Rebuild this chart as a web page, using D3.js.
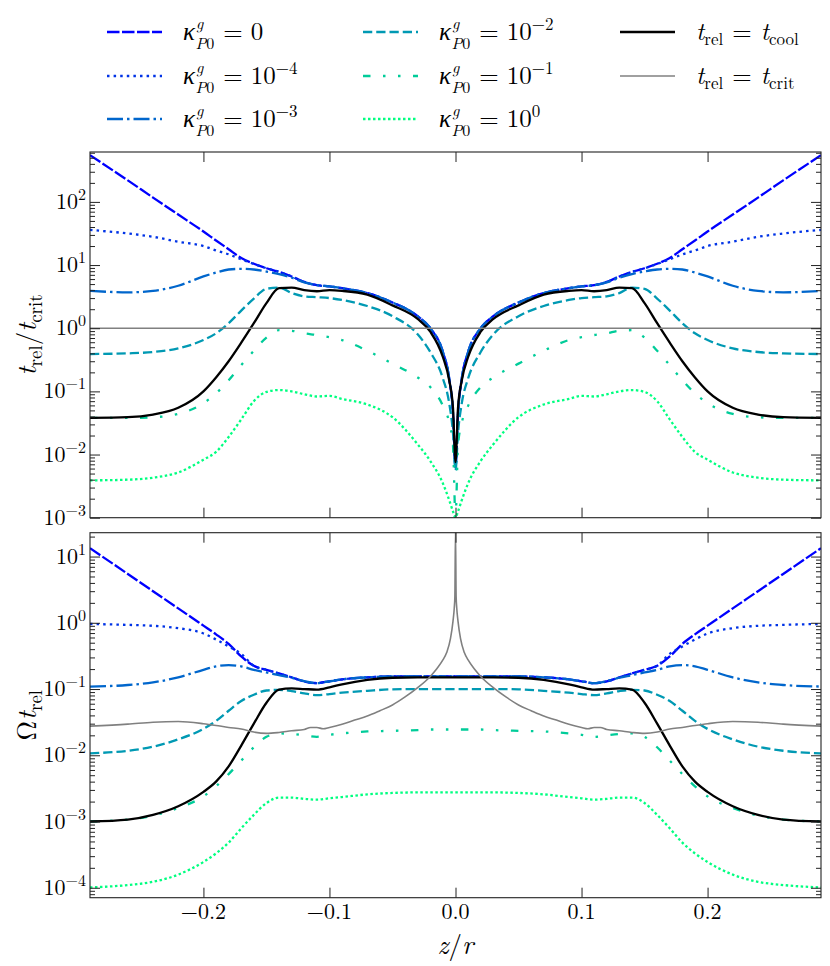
<!DOCTYPE html>
<html>
<head>
<meta charset="utf-8">
<script src="https://cdn.jsdelivr.net/npm/d3@7"></script>
<style>
  body { margin: 0; background: #fff; }
</style>
</head>
<body>
<svg id="chart" width="830" height="966"></svg>
<script>
// ---- data (profiles are symmetric in z, only z >= 0 is listed) ----
const zHalf = [0, 0.002, 0.005, 0.01, 0.02, 0.03, 0.05, 0.07, 0.09, 0.1, 0.11, 0.12,
  0.13, 0.14, 0.15, 0.16, 0.17, 0.18, 0.19, 0.2, 0.22, 0.24, 0.26, 0.29];

// top panel: t_rel / t_crit
const ratioK0 = [0.0063, 0.045, 0.16, 0.42, 1.0, 1.55, 2.55, 3.6, 4.3, 4.6, 4.8, 5.4,
  6.6, 7.8, 8.9, 10.5, 12.9, 17.8, 24.5, 34, 63, 117, 219, 550];
const ratioK4 = [0.0063, 0.045, 0.16, 0.42, 1.0, 1.55, 2.55, 3.6, 4.3, 4.6, 4.8, 5.4,
  6.6, 7.8, 8.9, 10.4, 12.3, 14.8, 17, 20, 23.4, 28, 31.6, 36];
const ratioK3 = [0.0063, 0.045, 0.16, 0.42, 1.0, 1.55, 2.55, 3.6, 4.3, 4.6, 4.8, 5.3,
  6.3, 7.2, 7.9, 8.5, 8.7, 8.5, 7.6, 6.6, 4.7, 3.9, 3.7, 3.9];
const ratioK2 = [0.0056, 0.022, 0.065, 0.16, 0.42, 0.80, 1.55, 2.25, 2.8, 3.0, 3.1, 3.2,
  3.6, 4.4, 4.2, 2.95, 1.9, 1.2, 0.83, 0.65, 0.48, 0.42, 0.40, 0.39];
const ratioK1 = [0.001, 0.014, 0.032, 0.059, 0.117, 0.166, 0.275, 0.44, 0.65, 0.72, 0.78, 0.83,
  0.91, 0.93, 0.71, 0.44, 0.26, 0.15, 0.093, 0.065, 0.044, 0.039, 0.038, 0.038];
const ratioK00 = [0.001, 0.00126, 0.0019, 0.0035, 0.0079, 0.0145, 0.039, 0.062, 0.076, 0.085, 0.083, 0.090,
  0.10, 0.105, 0.098, 0.07, 0.036, 0.019, 0.011, 0.0083, 0.0052, 0.0043, 0.0040, 0.0039];
const ratioCool = [0.0076, 0.055, 0.15, 0.35, 0.88, 1.4, 2.3, 3.4, 3.9, 4.0, 3.85, 4.0,
  4.4, 4.3, 2.5, 1.2, 0.59, 0.30, 0.166, 0.10, 0.055, 0.043, 0.039, 0.038];
const zCritTop = [0, 0.29];
const ratioCrit = [1, 1];

// bottom panel: Omega t_rel
const omegaK0 = [0.155, 0.155, 0.155, 0.155, 0.155, 0.155, 0.155, 0.150, 0.140, 0.131, 0.123, 0.130,
  0.150, 0.172, 0.195, 0.224, 0.31, 0.48, 0.67, 0.905, 1.65, 3.0, 5.46, 13.4];
const omegaK4 = [0.155, 0.155, 0.155, 0.155, 0.155, 0.155, 0.155, 0.150, 0.140, 0.131, 0.123, 0.130,
  0.150, 0.172, 0.195, 0.224, 0.34, 0.44, 0.56, 0.69, 0.83, 0.90, 0.93, 0.96];
const omegaK3 = [0.155, 0.155, 0.155, 0.155, 0.155, 0.155, 0.155, 0.150, 0.140, 0.131, 0.123, 0.132,
  0.148, 0.162, 0.178, 0.195, 0.22, 0.23, 0.22, 0.195, 0.15, 0.126, 0.115, 0.109];
const omegaK2 = [0.100, 0.100, 0.100, 0.100, 0.100, 0.100, 0.099, 0.094, 0.088, 0.084, 0.081, 0.086,
  0.093, 0.097, 0.095, 0.082, 0.066, 0.047, 0.033, 0.025, 0.0174, 0.0135, 0.0117, 0.0107];
const omegaK1 = [0.0245, 0.0245, 0.0245, 0.0245, 0.0245, 0.024, 0.0234, 0.0229, 0.0214, 0.0204, 0.019, 0.020,
  0.021, 0.0214, 0.019, 0.0132, 0.0083, 0.0052, 0.0034, 0.0024, 0.0016, 0.00123, 0.00107, 0.001];
const omegaK00 = [0.00275, 0.00275, 0.00275, 0.00275, 0.00275, 0.00275, 0.0027, 0.00257, 0.00234, 0.00224, 0.00214, 0.0022,
  0.0023, 0.0023, 0.0019, 0.00126, 0.00079, 0.00048, 0.00033, 0.000245, 0.000158, 0.000123, 0.00011, 0.000101];
const omegaCool = [0.150, 0.150, 0.150, 0.150, 0.150, 0.150, 0.148, 0.138, 0.118, 0.106, 0.098, 0.100,
  0.102, 0.098, 0.062, 0.030, 0.014, 0.0068, 0.004, 0.0028, 0.0017, 0.00126, 0.00107, 0.001];
const zCritHalf = [0, 0.0005, 0.001, 0.002, 0.004, 0.007, 0.01, 0.015, 0.02, 0.03, 0.04, 0.05,
  0.06, 0.07, 0.08, 0.09, 0.1, 0.105, 0.11, 0.115, 0.12, 0.13, 0.14, 0.15, 0.16, 0.17, 0.18,
  0.19, 0.2, 0.22, 0.24, 0.26, 0.29];
const omegaCrit = [25, 2.5, 1.66, 1.05, 0.575, 0.355, 0.275, 0.20, 0.155, 0.105, 0.076, 0.0575,
  0.047, 0.039, 0.034, 0.0295, 0.0263, 0.0251, 0.0263, 0.0263, 0.0245, 0.0234, 0.0221, 0.0214,
  0.0224, 0.025, 0.0263, 0.0282, 0.030, 0.0324, 0.0316, 0.0295, 0.0275];

const kappaExponents = [null, -4, -3, -2, -1, 0];   // null -> kappa = 0
const xTicks = [-0.2, -0.1, 0.0, 0.1, 0.2];

// ---- styles ----
const FONT = '"CMU Serif", "Latin Modern Roman", "Liberation Serif", "DejaVu Serif", ' +
  '"Noto Serif", "FreeSerif", "Nimbus Roman", "Times New Roman", Times, serif';
const kappaStyles = [
  { color: '#0000ff', dash: '12.5,2.5' },
  { color: '#0033e6', dash: '2.5,4.1' },
  { color: '#0066cc', dash: '16,4,2.5,4' },
  { color: '#0099b3', dash: '9.25,4' },
  { color: '#00cc99', dash: '7.5,12.5,2.5,12.5,2.5,12.5' },
  { color: '#00ff80', dash: '2.5,2.5' }
];
const coolStyle = { color: '#000', width: 2.3 };
const critStyle = { color: '#808080', width: 1.6 };
const LW = 2.3;

const svg = d3.select('#chart').attr('font-family', FONT);
const left = 90, right = 821;

const x = d3.scaleLinear().domain([-0.29, 0.29]).range([left, right]);

/**
 * Mirror a half profile (z >= 0) into a full symmetric one.
 */
function mirror(zs, vs) {
  const neg = zs.slice(1).map((z, i) => ({ z: -z, v: vs[i + 1] })).reverse();
  return neg.concat(zs.map((z, i) => ({ z, v: vs[i] })));
}

/**
 * Append a piece-wise styled text (simple math typesetting with tspans).
 */
function mathText(parent, px, py, pieces, attrs = {}) {
  const t = parent.append('text').attr('x', px).attr('y', py)
    .style('font-family', FONT).attr('fill', '#000');
  Object.entries(attrs).forEach(([k, v]) => t.attr(k, v));
  pieces.forEach((p) => {
    const s = t.append('tspan').text(p.t).style('font-size', (p.size || 22) + 'px');
    if (p.it) s.style('font-style', 'italic');
    if (p.dx) s.attr('dx', p.dx);
    if (p.dy) s.attr('dy', p.dy);
  });
  return t;
}

const panels = [
  {
    top: 152, bottom: 517.7, domain: [1e-3, Math.pow(10, 2.79)],
    kappa: [ratioK0, ratioK4, ratioK3, ratioK2, ratioK1, ratioK00],
    cool: ratioCool, critZ: zCritTop, crit: ratioCrit, xLabels: false,
    ylabel: [
      { t: 't', it: true, size: 27 }, { t: 'rel', size: 19, dy: 6 },
      { t: '/', size: 27, dy: -6 }, { t: 't', it: true, size: 27 }, { t: 'crit', size: 19, dy: 6 }
    ]
  },
  {
    top: 532.7, bottom: 897.7, domain: [Math.pow(10, -4.15), Math.pow(10, 1.36)],
    kappa: [omegaK0, omegaK4, omegaK3, omegaK2, omegaK1, omegaK00],
    cool: omegaCool, critZ: zCritHalf, crit: omegaCrit, xLabels: true,
    ylabel: [
      { t: 'Ω', size: 27 }, { t: 't', it: true, size: 27, dx: 1 }, { t: 'rel', size: 19, dy: 6 }
    ]
  }
];

panels.forEach((p, pi) => {
  const y = d3.scaleLog().domain(p.domain).range([p.bottom, p.top]);
  const g = svg.append('g');

  const clipId = 'clip' + pi;
  svg.append('clipPath').attr('id', clipId)
    .append('rect').attr('x', left).attr('y', p.top)
    .attr('width', right - left).attr('height', p.bottom - p.top);

  const line = d3.line()
    .x((d) => x(d.z))
    .y((d) => y(d.v))
    .curve(d3.curveMonotoneX);

  const plot = g.append('g').attr('clip-path', `url(#${clipId})`);

  p.kappa.forEach((vals, i) => {
    plot.append('path')
      .attr('d', line(mirror(zHalf, vals)))
      .attr('fill', 'none')
      .attr('stroke', kappaStyles[i].color)
      .attr('stroke-width', LW)
      .attr('stroke-dasharray', kappaStyles[i].dash);
  });

  plot.append('path')
    .attr('d', line(mirror(zHalf, p.cool)))
    .attr('fill', 'none')
    .attr('stroke', coolStyle.color)
    .attr('stroke-width', coolStyle.width);

  plot.append('path')
    .attr('d', line(mirror(p.critZ, p.crit)))
    .attr('fill', 'none')
    .attr('stroke', critStyle.color)
    .attr('stroke-width', critStyle.width);

  // log ticks
  const lo = Math.ceil(Math.log10(p.domain[0]));
  const hi = Math.floor(Math.log10(p.domain[1]));
  const majors = d3.range(lo, hi + 1).map((e) => Math.pow(10, e));
  const minors = [];
  for (let e = lo - 1; e <= hi; e++) {
    for (let k = 2; k <= 9; k++) {
      const v = k * Math.pow(10, e);
      if (v >= p.domain[0] && v <= p.domain[1]) minors.push(v);
    }
  }

  const axes = g.append('g').attr('class', 'axes');
  const addAxis = (axis, tx, ty) => {
    const a = axes.append('g').attr('transform', `translate(${tx},${ty})`).call(axis);
    a.select('.domain').remove();
    a.selectAll('line').attr('stroke', '#222').attr('stroke-width', 1);
    a.selectAll('text').remove();
  };

  addAxis(d3.axisLeft(y).tickValues(majors).tickSize(-10).tickFormat(''), left, 0);
  addAxis(d3.axisLeft(y).tickValues(minors).tickSize(-5).tickFormat(''), left, 0);
  addAxis(d3.axisRight(y).tickValues(majors).tickSize(-10).tickFormat(''), right, 0);
  addAxis(d3.axisRight(y).tickValues(minors).tickSize(-5).tickFormat(''), right, 0);
  addAxis(d3.axisBottom(x).tickValues(xTicks).tickSize(-10).tickFormat(''), 0, p.bottom);
  addAxis(d3.axisTop(x).tickValues(xTicks).tickSize(-10).tickFormat(''), 0, p.top);

  axes.append('rect')
    .attr('x', left).attr('y', p.top)
    .attr('width', right - left).attr('height', p.bottom - p.top)
    .attr('fill', 'none').attr('stroke', '#222').attr('stroke-width', 1.1);

  // y tick labels: 10^n
  majors.forEach((v) => {
    const e = Math.round(Math.log10(v));
    mathText(axes, left - 4, y(v) + 7, [
      { t: '10', size: 22 },
      { t: String(e).replace('-', '\u2212'), size: 16, dy: -9 }
    ], { 'text-anchor': 'end' });
  });

  if (p.xLabels) {
    xTicks.forEach((v) => {
      mathText(axes, x(v), p.bottom + 21, [
        { t: d3.format('.1f')(v).replace('-', '\u2212'), size: 22 }
      ], { 'text-anchor': 'middle' });
    });
    mathText(axes, x(0), p.bottom + 56, [
      { t: 'z', it: true, size: 27 }, { t: '/', size: 27 }, { t: 'r', it: true, size: 27 }
    ], { 'text-anchor': 'middle' });
  }

  mathText(axes, 0, 0, p.ylabel, {
    'text-anchor': 'middle',
    transform: `translate(36,${(p.top + p.bottom) / 2}) rotate(-90)`
  });
});

// ---- legend (3 columns, column-major) ----
const legend = svg.append('g');
const rowsY = [32, 76, 119];
const colX = [107, 363, 620];
const sampleLen = 55;

const legendItems = kappaExponents.map((e, i) => ({
  style: kappaStyles[i],
  pieces: [
    { t: 'κ', it: true, size: 25 },
    { t: 'g', it: true, size: 16, dx: 1, dy: -11 },
    { t: 'P', it: true, size: 16, dx: -8, dy: 20 },
    { t: '0', size: 16 },
    { t: '=', size: 25, dx: 9, dy: -9 },
    { t: e === null ? '0' : '10', size: 25, dx: 8 }
  ].concat(e === null ? [] : [{ t: String(e).replace('-', '\u2212'), size: 17, dy: -10 }])
}));
const tItem = (sub, style) => ({
  style,
  pieces: [
    { t: 't', it: true, size: 25 }, { t: 'rel', size: 17, dy: 5 },
    { t: '=', size: 25, dx: 9, dy: -5 }, { t: 't', it: true, size: 25, dx: 9 },
    { t: sub, size: 17, dy: 5 }
  ]
});
legendItems.push(tItem('cool', { color: coolStyle.color, width: coolStyle.width }));
legendItems.push(tItem('crit', { color: critStyle.color, width: critStyle.width }));

legendItems.forEach((item, i) => {
  const cx = colX[Math.floor(i / 3)];
  const cy = rowsY[i % 3];
  legend.append('line')
    .attr('x1', cx).attr('x2', cx + sampleLen)
    .attr('y1', cy).attr('y2', cy)
    .attr('stroke', item.style.color)
    .attr('stroke-width', item.style.width || LW)
    .attr('stroke-dasharray', item.style.dash || null);
  mathText(legend, cx + sampleLen + 21, cy + 8, item.pieces);
});
</script>
</body>
</html>
